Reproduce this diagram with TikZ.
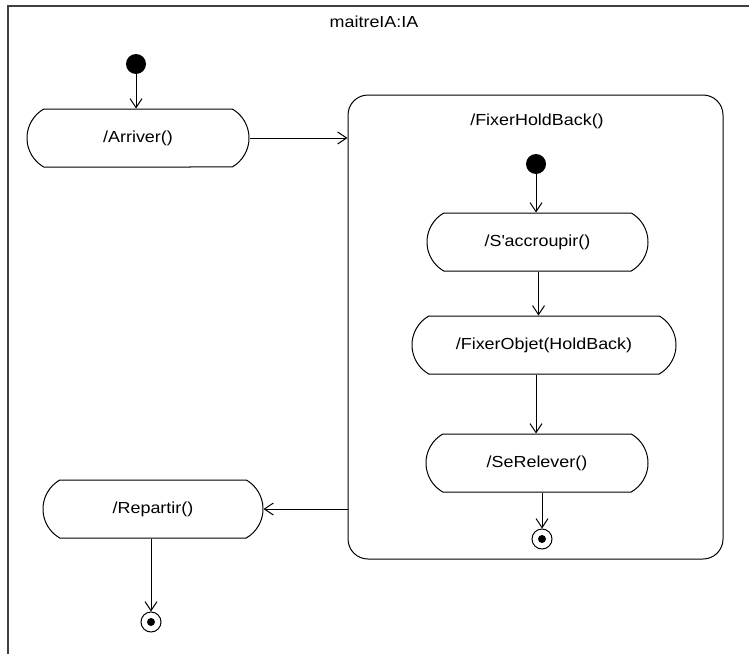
\documentclass[tikz,border=0pt]{standalone}
\usepackage{fontspec}
\setmainfont{Liberation Sans}[FakeStretch=1.12]
\usetikzlibrary{shapes.misc,arrows.meta}

\begin{document}
\begin{tikzpicture}[x=1pt,y=-1pt,
  txt/.style={font=\fontsize{16}{18}\selectfont, inner sep=0pt},
  action/.style={txt, rounded rectangle, rounded rectangle arc length=120,
    draw, line width=1pt, minimum height=58pt},
  initst/.style={circle, fill=black, minimum size=20pt, inner sep=0pt},
  finalst/.style={circle, draw, line width=1pt, minimum size=20pt, inner sep=0pt,
    path picture={\fill (path picture bounding box.center) circle (4pt);}},
  flow/.style={-{Straight Barb[length=9pt,width=12pt]}, line width=1pt},
  superstate/.style={draw, rounded corners=20pt, line width=1pt}]

  \useasboundingbox (0,0) rectangle (749,653);

  % outer frame (runs past the right and bottom edges)
  \begin{scope}
    \clip (0,0) rectangle (749,653);
    \draw[line width=2pt, black!75] (8,6) rectangle (800,720);
  \end{scope}

  \node[txt] (title) at (374,22) {maitreIA:IA};

  % top level
  \node[initst] (i1) at (136,64) {};
  \node[action, minimum width=222pt] (arr) at (138,138) {/Arriver()};
  \node[action, minimum width=220pt] (rep) at (153,509) {/Repartir()};
  \node[finalst] (f1) at (151,622) {};

  % composite state
  \node[superstate, minimum width=375pt, minimum height=464pt] (comp) at (535.5,327) {};
  \node[txt] (ctitle) at (537,121) {/FixerHoldBack()};
  \node[initst] (i2) at (536,164) {};
  \node[action, minimum width=221pt] (acc) at (537.5,242) {/S\textquotesingle{}accroupir()};
  \node[action, minimum width=264pt] (fix) at (544,345) {/FixerObjet(HoldBack)};
  \node[action, minimum width=222pt] (rel) at (537,463) {/SeRelever()};
  \node[finalst] (f2) at (542,539) {};

  % transitions
  \draw[flow] (i1) -- (i1 |- arr.north);
  \draw[flow] (arr.east) -- (arr.east -| comp.west);
  \draw[flow] (i2) -- (i2 |- acc.north);
  \draw[flow] ([xshift=1pt]acc.south) -- ([xshift=1pt]acc.south |- fix.north);
  \draw[flow] ([xshift=-8pt]fix.south) -- ([xshift=-8pt]fix.south |- rel.north);
  \draw[flow] (f2 |- rel.south) -- (f2.north);
  \draw[flow] (comp.west |- rep.east) -- (rep.east);
  \draw[flow] (rep.south -| f1) -- (f1.north);
\end{tikzpicture}
\end{document}
